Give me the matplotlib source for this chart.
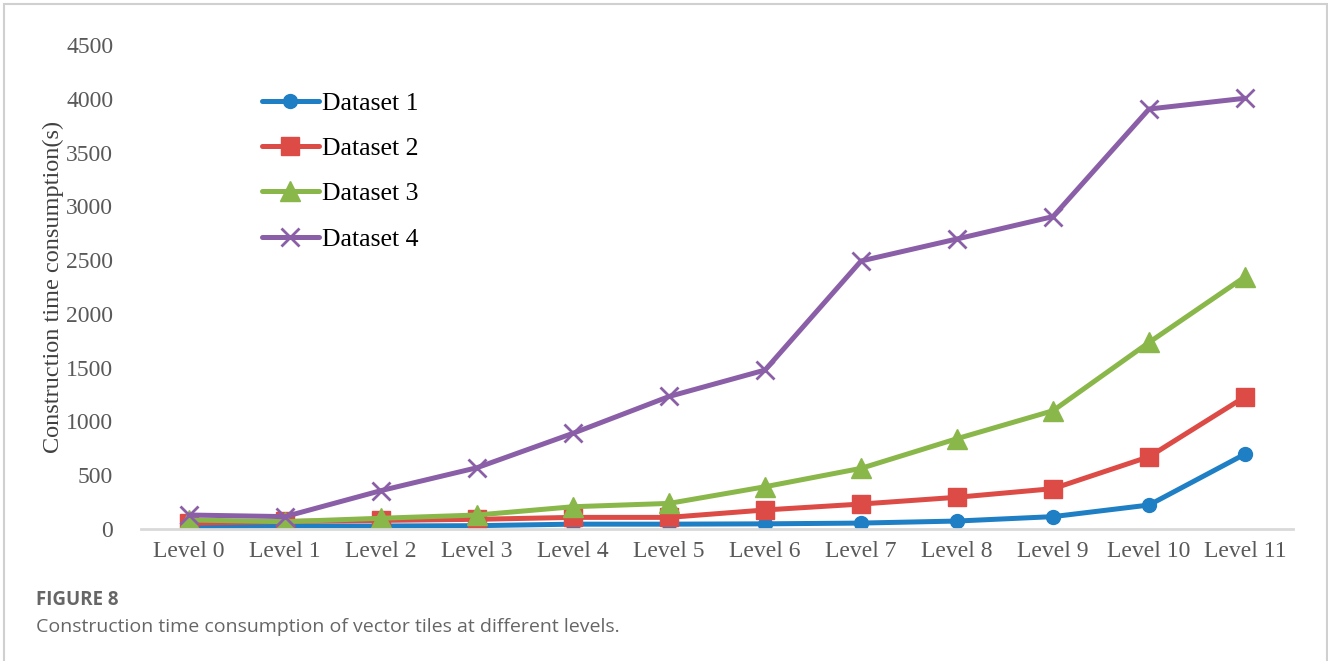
import matplotlib.pyplot as plt
from matplotlib.patches import Rectangle

levels = ["Level 0", "Level 1", "Level 2", "Level 3", "Level 4", "Level 5",
          "Level 6", "Level 7", "Level 8", "Level 9", "Level 10", "Level 11"]
dataset1 = [22, 28, 28, 31, 45, 45, 48, 55, 74, 115, 223, 697]
dataset2 = [53, 70, 80, 90, 108, 108, 177, 232, 295, 375, 672, 1230]
dataset3 = [84, 68, 100, 130, 207, 238, 393, 564, 840, 1100, 1735, 2345]
dataset4 = [130, 115, 357, 570, 890, 1232, 1478, 2492, 2697, 2905, 3905, 4005]

fig = plt.figure(figsize=(13.28, 6.61), dpi=100)
ax = fig.add_axes([0.1062, 0.1997, 0.8675, 0.7322])

x = range(len(levels))
ax.plot(x, dataset1, color="#1f7fc4", lw=3.6, marker="o", ms=10,
        solid_capstyle="round", label="Dataset 1")
ax.plot(x, dataset2, color="#dc4b45", lw=3.6, marker="s", ms=13,
        solid_capstyle="round", label="Dataset 2")
ax.plot(x, dataset3, color="#8ab74a", lw=3.6, marker="^", ms=15,
        solid_capstyle="round", label="Dataset 3")
ax.plot(x, dataset4, color="#8a5fa8", lw=3.6, marker="x", ms=13, mew=2,
        solid_capstyle="round", label="Dataset 4")

ax.set_xlim(-0.5, len(levels) - 0.5)
ax.set_ylim(0, 4500)
ax.set_yticks(range(0, 4501, 500))
ax.set_xticks(list(x))
ax.set_xticklabels(levels)
for s in ("top", "right", "left"):
    ax.spines[s].set_visible(False)
ax.spines["bottom"].set_color("#d9d9d9")
ax.spines["bottom"].set_linewidth(2)
ax.tick_params(length=0, labelsize=17, labelcolor="#595959")
ax.tick_params(axis="y", pad=20)
ax.tick_params(axis="x", pad=9)
for lab in ax.get_xticklabels() + ax.get_yticklabels():
    lab.set_fontfamily("Liberation Serif")

ax.set_ylabel("Construction time consumption(s)", fontsize=17.5,
              family="Liberation Serif", color="#404040", labelpad=1.5)

leg = ax.legend(loc="upper left", bbox_to_anchor=(0.085, 0.95), frameon=False,
                prop={"family": "Liberation Serif", "size": 18.5},
                handlelength=2.2, handletextpad=0.15, labelspacing=0.86)

# caption under the chart
fig.text(0.027, 0.092, "FIGURE 8", fontsize=13.5, fontweight="bold",
         family="Open Sans", color="#666666", va="center")
fig.text(0.027, 0.052,
         "Construction time consumption of vector tiles at different levels.",
         fontsize=14, family="Open Sans", color="#666666", va="center")

# light frame round the figure
fig.patches.append(Rectangle((0.003, -0.05), 0.996, 1.044,
                             transform=fig.transFigure, fill=False,
                             edgecolor="#d0d0d0", lw=1.5))

fig.savefig("out.png", dpi=100, facecolor="white")
